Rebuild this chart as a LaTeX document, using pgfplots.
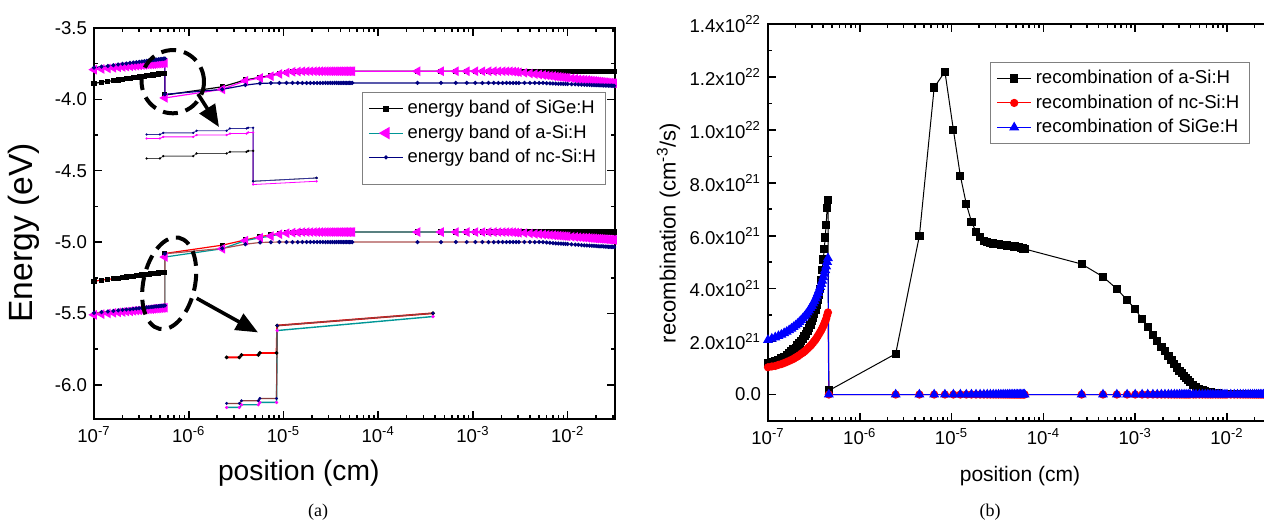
\documentclass[border=0pt]{standalone}
\usepackage{fontspec}
\setmainfont{Liberation Sans}
\newfontfamily\capfont{Liberation Serif}
\usepackage{pgfplots}
\usepackage{pgfplotstable}
\pgfplotsset{compat=1.18}
\usetikzlibrary{arrows.meta}
\definecolor{mag}{RGB}{255,0,255}
\definecolor{tealc}{RGB}{0,150,150}
\definecolor{navyc}{RGB}{0,0,128}
\definecolor{brownc}{RGB}{170,80,80}
\newcommand{\tickfont}{\fontsize{9.3pt}{11pt}\selectfont}

\pgfplotstableread{
x cbsg cbas cbnc vbsg vbas vbnc
1.0e-7 -3.888 -3.792 -3.778 -5.274 -5.510 -5.497
1.2e-7 -3.880 -3.787 -3.771 -5.267 -5.505 -5.491
1.4e-7 -3.874 -3.783 -3.766 -5.262 -5.500 -5.487
1.6e-7 -3.869 -3.779 -3.761 -5.257 -5.496 -5.483
1.8e-7 -3.864 -3.776 -3.756 -5.253 -5.493 -5.479
2.0e-7 -3.859 -3.773 -3.752 -5.249 -5.490 -5.476
2.2e-7 -3.856 -3.771 -3.749 -5.245 -5.487 -5.473
2.4e-7 -3.852 -3.768 -3.745 -5.242 -5.485 -5.471
2.6e-7 -3.849 -3.766 -3.742 -5.239 -5.482 -5.468
2.8e-7 -3.846 -3.764 -3.740 -5.236 -5.480 -5.466
3.0e-7 -3.843 -3.762 -3.737 -5.234 -5.478 -5.464
3.2e-7 -3.840 -3.760 -3.735 -5.231 -5.476 -5.462
3.4e-7 -3.838 -3.759 -3.733 -5.229 -5.474 -5.460
3.6e-7 -3.835 -3.757 -3.730 -5.227 -5.473 -5.458
3.8e-7 -3.833 -3.756 -3.728 -5.225 -5.471 -5.457
4.0e-7 -3.831 -3.754 -3.726 -5.223 -5.470 -5.455
4.2e-7 -3.829 -3.753 -3.725 -5.222 -5.468 -5.454
4.4e-7 -3.827 -3.752 -3.723 -5.220 -5.467 -5.452
4.6e-7 -3.825 -3.750 -3.721 -5.218 -5.466 -5.451
4.8e-7 -3.823 -3.749 -3.720 -5.217 -5.465 -5.450
5.0e-7 -3.821 -3.748 -3.718 -5.215 -5.463 -5.448
5.2e-7 -3.820 -3.747 -3.717 -5.214 -5.462 -5.447
5.4e-7 -3.818 -3.746 -3.715 -5.212 -5.461 -5.446
5.6e-7 -3.817 -3.745 -3.714 -5.211 -5.460 -5.445
5.6e-7 -3.970 -3.990 -3.965 -5.080 -5.105 -5.082
2.26e-6 -3.912 -3.930 -3.930 -5.022 -5.047 -5.045
3.96e-6 -3.864 -3.870 -3.900 -4.985 -4.990 -5.015
5.66e-6 -3.846 -3.850 -3.888 -4.962 -4.970 -5.003
7.36e-6 -3.832 -3.838 -3.886 -4.950 -4.958 -5.001
9.06e-6 -3.818 -3.822 -3.885 -4.940 -4.945 -5.000
1.076e-5 -3.811 -3.813 -3.885 -4.935 -4.938 -5.000
1.246e-5 -3.806 -3.807 -3.885 -4.932 -4.934 -5.000
1.416e-5 -3.804 -3.805 -3.885 -4.931 -4.932 -5.000
1.586e-5 -3.803 -3.803 -3.885 -4.930 -4.930 -5.000
1.756e-5 -3.803 -3.803 -3.885 -4.930 -4.930 -5.000
1.926e-5 -3.803 -3.803 -3.885 -4.930 -4.930 -5.000
2.096e-5 -3.803 -3.803 -3.885 -4.930 -4.930 -5.000
2.266e-5 -3.803 -3.803 -3.885 -4.930 -4.930 -5.000
2.436e-5 -3.803 -3.803 -3.885 -4.930 -4.930 -5.000
2.606e-5 -3.803 -3.803 -3.885 -4.930 -4.930 -5.000
2.776e-5 -3.803 -3.803 -3.885 -4.930 -4.930 -5.000
2.946e-5 -3.803 -3.803 -3.885 -4.930 -4.930 -5.000
3.116e-5 -3.803 -3.803 -3.885 -4.930 -4.930 -5.000
3.286e-5 -3.803 -3.803 -3.885 -4.930 -4.930 -5.000
3.456e-5 -3.803 -3.803 -3.885 -4.930 -4.930 -5.000
3.626e-5 -3.803 -3.803 -3.885 -4.930 -4.930 -5.000
3.796e-5 -3.803 -3.803 -3.885 -4.930 -4.930 -5.000
3.966e-5 -3.803 -3.803 -3.885 -4.930 -4.930 -5.000
4.136e-5 -3.803 -3.803 -3.885 -4.930 -4.930 -5.000
4.306e-5 -3.803 -3.803 -3.885 -4.930 -4.930 -5.000
4.476e-5 -3.803 -3.803 -3.885 -4.930 -4.930 -5.000
4.646e-5 -3.803 -3.803 -3.885 -4.930 -4.930 -5.000
4.816e-5 -3.803 -3.803 -3.885 -4.930 -4.930 -5.000
4.986e-5 -3.803 -3.803 -3.885 -4.930 -4.930 -5.000
5.156e-5 -3.803 -3.803 -3.885 -4.930 -4.930 -5.000
5.326e-5 -3.803 -3.803 -3.885 -4.930 -4.930 -5.000
2.6e-4 -3.803 -3.803 -3.885 -4.930 -4.930 -5.000
4.6e-4 -3.803 -3.803 -3.885 -4.930 -4.930 -5.000
6.6e-4 -3.803 -3.803 -3.885 -4.930 -4.930 -5.000
8.6e-4 -3.803 -3.803 -3.885 -4.930 -4.930 -5.000
1.06e-3 -3.803 -3.803 -3.885 -4.930 -4.930 -5.000
1.26e-3 -3.803 -3.803 -3.885 -4.930 -4.930 -5.000
1.46e-3 -3.803 -3.803 -3.885 -4.930 -4.930 -5.000
1.66e-3 -3.803 -3.803 -3.885 -4.930 -4.930 -5.000
1.86e-3 -3.803 -3.803 -3.885 -4.930 -4.930 -5.000
2.06e-3 -3.803 -3.803 -3.885 -4.930 -4.930 -5.000
2.26e-3 -3.803 -3.803 -3.885 -4.930 -4.930 -5.000
2.46e-3 -3.803 -3.803 -3.885 -4.930 -4.930 -5.000
2.66e-3 -3.803 -3.805 -3.885 -4.930 -4.931 -5.000
2.86e-3 -3.803 -3.807 -3.885 -4.930 -4.933 -5.000
3.06e-3 -3.803 -3.810 -3.885 -4.930 -4.935 -5.000
3.5e-3 -3.803 -3.814 -3.885 -4.930 -4.937 -5.000
4.0e-3 -3.803 -3.819 -3.885 -4.930 -4.940 -5.000
4.5e-3 -3.803 -3.823 -3.885 -4.930 -4.943 -5.000
5.0e-3 -3.803 -3.826 -3.885 -4.930 -4.945 -5.000
5.5e-3 -3.803 -3.829 -3.885 -4.930 -4.947 -5.000
6.0e-3 -3.803 -3.832 -3.887 -4.930 -4.949 -5.003
6.5e-3 -3.803 -3.835 -3.888 -4.930 -4.951 -5.005
7.0e-3 -3.803 -3.837 -3.889 -4.930 -4.952 -5.007
7.5e-3 -3.803 -3.840 -3.890 -4.930 -4.954 -5.009
8.0e-3 -3.803 -3.842 -3.891 -4.930 -4.955 -5.010
8.5e-3 -3.803 -3.844 -3.891 -4.930 -4.957 -5.011
9.0e-3 -3.803 -3.846 -3.892 -4.930 -4.958 -5.012
9.5e-3 -3.803 -3.848 -3.892 -4.930 -4.959 -5.013
1.0e-2 -3.803 -3.849 -3.893 -4.930 -4.960 -5.014
1.1e-2 -3.803 -3.853 -3.894 -4.930 -4.963 -5.016
1.2e-2 -3.803 -3.856 -3.895 -4.930 -4.964 -5.018
1.3e-2 -3.803 -3.859 -3.896 -4.930 -4.966 -5.019
1.4e-2 -3.803 -3.861 -3.897 -4.930 -4.968 -5.021
1.5e-2 -3.803 -3.863 -3.898 -4.930 -4.969 -5.023
1.6e-2 -3.803 -3.865 -3.899 -4.930 -4.970 -5.024
1.7e-2 -3.803 -3.867 -3.899 -4.930 -4.972 -5.025
1.8e-2 -3.803 -3.869 -3.900 -4.930 -4.973 -5.026
1.9e-2 -3.803 -3.871 -3.900 -4.930 -4.974 -5.027
2.0e-2 -3.803 -3.873 -3.901 -4.930 -4.976 -5.028
2.1e-2 -3.803 -3.874 -3.901 -4.930 -4.976 -5.029
2.2e-2 -3.803 -3.876 -3.902 -4.930 -4.977 -5.030
2.3e-2 -3.803 -3.877 -3.902 -4.930 -4.978 -5.030
2.4e-2 -3.803 -3.879 -3.903 -4.930 -4.979 -5.031
2.5e-2 -3.803 -3.880 -3.903 -4.930 -4.980 -5.032
2.6e-2 -3.803 -3.881 -3.903 -4.930 -4.981 -5.032
2.7e-2 -3.803 -3.883 -3.904 -4.930 -4.982 -5.033
2.8e-2 -3.803 -3.884 -3.904 -4.930 -4.983 -5.033
2.9e-2 -3.803 -3.885 -3.904 -4.930 -4.983 -5.034
3.0e-2 -3.803 -3.886 -3.905 -4.930 -4.984 -5.034
3.1e-2 -3.803 -3.887 -3.905 -4.930 -4.985 -5.035
3.2e-2 -3.803 -3.888 -3.905 -4.930 -4.985 -5.035
}\band

% insets (lx = log10 of position)
\pgfplotstableread{
lx y
-6.444 -4.246
-6.304 -4.246
-6.269 -4.235
-5.953 -4.235
-5.917 -4.220
-5.600 -4.220
-5.565 -4.204
-5.389 -4.204
-5.372 -4.199
-5.320 -4.199
-5.320 -4.574
-4.651 -4.551
}\insCBnc
\pgfplotstableread{
lx y
-6.444 -4.274
-6.304 -4.274
-6.269 -4.263
-5.953 -4.263
-5.917 -4.250
-5.600 -4.250
-5.565 -4.240
-5.389 -4.240
-5.372 -4.232
-5.320 -4.232
-5.320 -4.597
-4.651 -4.574
}\insCBas
\pgfplotstableread{
lx y
-6.444 -4.414
-6.304 -4.414
-6.269 -4.398
-5.953 -4.398
-5.917 -4.379
-5.600 -4.379
-5.565 -4.368
-5.389 -4.368
-5.372 -4.361
-5.320 -4.361
-5.320 -4.574
-4.651 -4.551
}\insCBsg
\pgfplotstableread{
lx y
-5.600 -5.808
-5.465 -5.808
-5.442 -5.791
-5.265 -5.791
-5.249 -5.777
-5.073 -5.777
-5.066 -5.585
-3.421 -5.499
}\insVBsg
\pgfplotstableread{
lx y
-5.600 -6.131
-5.465 -6.131
-5.442 -6.112
-5.265 -6.112
-5.249 -6.096
-5.073 -6.096
-5.066 -5.585
-3.421 -5.499
}\insVBnc
\pgfplotstableread{
lx y
-5.600 -6.159
-5.465 -6.159
-5.442 -6.140
-5.265 -6.140
-5.249 -6.124
-5.073 -6.124
-5.066 -5.620
-3.421 -5.522
}\insVBas

% recombination, units of 1e21 cm^-3/s
\pgfplotstableread{
x blk red blu
1.0e-7 1.18 1.03 2.06
1.1e-7 1.22 1.06 2.11
1.2e-7 1.26 1.08 2.16
1.3e-7 1.31 1.12 2.21
1.4e-7 1.37 1.15 2.26
1.5e-7 1.43 1.19 2.32
1.6e-7 1.50 1.23 2.37
1.7e-7 1.57 1.27 2.43
1.8e-7 1.63 1.31 2.49
1.9e-7 1.70 1.35 2.55
2.0e-7 1.77 1.40 2.61
2.1e-7 1.85 1.44 2.67
2.2e-7 1.93 1.49 2.74
2.3e-7 2.02 1.54 2.81
2.4e-7 2.11 1.58 2.88
2.5e-7 2.20 1.63 2.95
2.6e-7 2.30 1.68 3.02
2.7e-7 2.41 1.74 3.10
2.8e-7 2.52 1.79 3.18
2.9e-7 2.64 1.84 3.27
3.0e-7 2.77 1.90 3.35
3.1e-7 2.90 1.96 3.44
3.2e-7 3.05 2.02 3.53
3.3e-7 3.20 2.08 3.63
3.4e-7 3.37 2.15 3.73
3.5e-7 3.56 2.22 3.84
3.6e-7 3.77 2.29 3.95
3.7e-7 4.00 2.36 4.06
3.8e-7 4.33 2.43 4.18
3.9e-7 4.70 2.51 4.30
4.0e-7 5.10 2.59 4.43
4.1e-7 5.50 2.68 4.56
4.2e-7 5.93 2.77 4.70
4.3e-7 6.40 2.86 4.84
4.4e-7 7.04 2.99 5.01
4.5e-7 7.36 3.10 5.15
4.6e-7 0.15 0 0
2.46e-6 1.54 0 0
4.46e-6 6.00 0 0
6.46e-6 11.60 0 0
8.46e-6 12.20 0 0
1.046e-5 10.00 0 0
1.246e-5 8.26 0 0
1.446e-5 7.20 0 0
1.646e-5 6.53 0 0
1.846e-5 6.15 0 0
2.046e-5 5.94 0 0
2.246e-5 5.81 0 0
2.446e-5 5.76 0 0
2.646e-5 5.73 0 0
2.846e-5 5.71 0 0
3.046e-5 5.69 0 0
3.246e-5 5.68 0 0
3.446e-5 5.66 0 0
3.646e-5 5.65 0 0
3.846e-5 5.64 0 0
4.046e-5 5.63 0 0
4.246e-5 5.62 0 0
4.446e-5 5.61 0 0
4.646e-5 5.60 0 0
4.846e-5 5.59 0 0
5.046e-5 5.58 0 0
5.246e-5 5.57 0 0
5.446e-5 5.56 0 0
5.646e-5 5.55 0 0
5.846e-5 5.54 0 0
6.046e-5 5.52 0 0
6.246e-5 5.50 0 0
2.61e-4 4.93 0 0
4.46e-4 4.45 0 0
6.31e-4 3.99 0 0
8.16e-4 3.57 0 0
1.00e-3 3.23 0 0
1.19e-3 2.84 0 0
1.37e-3 2.54 0 0
1.56e-3 2.25 0 0
1.74e-3 2.01 0 0
1.93e-3 1.80 0 0
2.11e-3 1.63 0 0
2.30e-3 1.45 0 0
2.48e-3 1.30 0 0
2.67e-3 1.15 0 0
2.85e-3 1.02 0 0
3.04e-3 0.90 0 0
3.22e-3 0.80 0 0
3.41e-3 0.70 0 0
3.59e-3 0.61 0 0
3.78e-3 0.54 0 0
3.96e-3 0.47 0 0
4.30e-3 0.37 0 0
4.60e-3 0.29 0 0
5.00e-3 0.22 0 0
5.40e-3 0.17 0 0
5.80e-3 0.13 0 0
6.20e-3 0.10 0 0
6.60e-3 0.08 0 0
7.00e-3 0.06 0 0
7.50e-3 0.05 0 0
8.00e-3 0.04 0 0
8.50e-3 0.03 0 0
9.00e-3 0.03 0 0
9.50e-3 0.02 0 0
1.00e-2 0.02 0 0
1.10e-2 0.02 0 0
1.20e-2 0.02 0 0
1.30e-2 0.02 0 0
1.40e-2 0.02 0 0
1.50e-2 0.02 0 0
1.60e-2 0.01 0 0
1.70e-2 0.01 0 0
1.80e-2 0.01 0 0
1.90e-2 0.01 0 0
2.00e-2 0.01 0 0
2.10e-2 0.01 0 0
2.20e-2 0.01 0 0
2.30e-2 0.01 0 0
2.40e-2 0.01 0 0
2.50e-2 0.01 0 0
2.60e-2 0.01 0 0
2.70e-2 0.01 0 0
2.80e-2 0.01 0 0
2.90e-2 0.01 0 0
3.00e-2 0.01 0 0
3.10e-2 0.01 0 0
3.20e-2 0.01 0 0
}\recomb

\begin{document}
\begin{tikzpicture}
% ---------- (a) ----------
\begin{axis}[
  scale only axis,
  at={(47pt,53pt)}, anchor=south west,
  width=260.5pt, height=195.5pt,
  xmode=log, xmin=1e-7, xmax=0.0316228,
  xtick={1e-7,1e-6,1e-5,1e-4,1e-3,1e-2},
  xticklabels={10\textsuperscript{-7},10\textsuperscript{-6},10\textsuperscript{-5},10\textsuperscript{-4},10\textsuperscript{-3},10\textsuperscript{-2}},
  minor xtick={2e-7,3e-7,4e-7,5e-7,6e-7,7e-7,8e-7,9e-7,2e-6,3e-6,4e-6,5e-6,6e-6,7e-6,8e-6,9e-6,2e-5,3e-5,4e-5,5e-5,6e-5,7e-5,8e-5,9e-5,2e-4,3e-4,4e-4,5e-4,6e-4,7e-4,8e-4,9e-4,2e-3,3e-3,4e-3,5e-3,6e-3,7e-3,8e-3,9e-3,2e-2,3e-2},
  tick align=inside,
  axis line style={line width=1.15pt},
  tick style={black, line width=0.8pt},
  major tick length=4pt, minor tick length=2pt,
  tick label style={font=\tickfont},
  ymin=-6.24, ymax=-3.5,
  ytick={-6,-5.5,-5,-4.5,-4,-3.5},
  yticklabels={-6.0,-5.5,-5.0,-4.5,-4.0,-3.5},
  minor ytick={-5.75,-5.25,-4.75,-4.25,-3.75},
  xlabel={position (cm)},
  xlabel style={font=\fontsize{14.1pt}{16pt}\selectfont, at={(axis description cs:0.393,-0.138)}, anchor=center},
  ylabel={Energy (eV)},
  ylabel style={font=\fontsize{16.8pt}{19pt}\selectfont, at={(axis description cs:-0.135,0.476)}, anchor=center},
  legend cell align=left,
  legend style={at={(0.514,0.836)}, anchor=north west, draw=gray, line width=0.5pt,
    font=\fontsize{9.2pt}{11pt}\selectfont},
]
% conduction band
\addplot[black, line width=0.6pt, mark=square*, mark size=1pt, forget plot] table[x=x,y=cbsg]{\band};
\addplot[mag, line width=0.6pt, mark=triangle*, mark size=2.2pt, mark options={rotate=90, fill=mag, draw=mag}, forget plot] table[x=x,y=cbas]{\band};
\addplot[navyc, line width=0.6pt, mark=*, mark size=0.7pt, forget plot] table[x=x,y=cbnc]{\band};
% valence band
\addplot[red, line width=0.6pt, mark=square*, mark size=1pt, mark options={black, fill=black}, forget plot] table[x=x,y=vbsg]{\band};
\addplot[tealc, line width=0.6pt, mark=triangle*, mark size=2.2pt, mark options={rotate=90, fill=mag, draw=mag}, forget plot] table[x=x,y=vbas]{\band};
\addplot[brownc, line width=0.6pt, mark=*, mark size=0.7pt, mark options={navyc, fill=navyc}, forget plot] table[x=x,y=vbnc]{\band};
% insets
\addplot[black!70, line width=0.4pt, mark=*, mark size=0.35pt, mark options={black}, forget plot] table[x expr=10^(\thisrow{lx}), y=y]{\insCBsg};
\addplot[mag, line width=0.4pt, mark=*, mark size=0.35pt, forget plot] table[x expr=10^(\thisrow{lx}), y=y]{\insCBas};
\addplot[navyc!80, line width=0.4pt, mark=*, mark size=0.35pt, mark options={navyc}, forget plot] table[x expr=10^(\thisrow{lx}), y=y]{\insCBnc};
\addplot[red, line width=0.9pt, mark=*, mark size=0.4pt, mark options={black}, forget plot] table[x expr=10^(\thisrow{lx}), y=y]{\insVBsg};
\addplot[tealc, line width=0.7pt, mark=*, mark size=0.4pt, mark options={mag}, forget plot] table[x expr=10^(\thisrow{lx}), y=y]{\insVBas};
\addplot[brownc!80!black, line width=0.6pt, mark=*, mark size=0.4pt, mark options={navyc}, forget plot] table[x expr=10^(\thisrow{lx}), y=y]{\insVBnc};
% legend
\addlegendimage{black, line width=0.6pt, mark=square*, mark size=1.1pt}
\addlegendentry{energy band of SiGe:H}
\addlegendimage{tealc, line width=0.6pt, mark=triangle*, mark size=3pt, mark options={rotate=90, fill=mag, draw=mag}}
\addlegendentry{energy band of a-Si:H}
\addlegendimage{navyc, line width=0.6pt, mark=*, mark size=0.7pt}
\addlegendentry{energy band of nc-Si:H}
\addlegendimage{empty legend}
\addlegendentry{}
\end{axis}

% annotations of (a)
\draw[black, line width=2pt, dash pattern=on 7.5pt off 4pt] (86.4pt,221.65pt) ellipse [x radius=15.6pt, y radius=15.8pt];
\draw[black, line width=2pt, dash pattern=on 7.5pt off 4pt, rotate around={-12:(84.6pt,120.85pt)}] (84.6pt,120.85pt) ellipse [x radius=12.9pt, y radius=23.3pt];
\draw[black, line width=1.8pt, -{Triangle[length=11pt,width=9pt]}] (99pt,215.5pt) -- (109.5pt,199pt);
\draw[black, line width=1.8pt, -{Triangle[length=11pt,width=9pt]}] (98.35pt,113.35pt) -- (129pt,96.3pt);

% ---------- (b) ----------
\begin{axis}[
  scale only axis,
  at={(384pt,52pt)}, anchor=south west,
  width=252.45pt, height=198.5pt,
  xmode=log, xmin=1e-7, xmax=0.0316228,
  xtick={1e-7,1e-6,1e-5,1e-4,1e-3,1e-2},
  xticklabels={10\textsuperscript{-7},10\textsuperscript{-6},10\textsuperscript{-5},10\textsuperscript{-4},10\textsuperscript{-3},10\textsuperscript{-2}},
  minor xtick={2e-7,3e-7,4e-7,5e-7,6e-7,7e-7,8e-7,9e-7,2e-6,3e-6,4e-6,5e-6,6e-6,7e-6,8e-6,9e-6,2e-5,3e-5,4e-5,5e-5,6e-5,7e-5,8e-5,9e-5,2e-4,3e-4,4e-4,5e-4,6e-4,7e-4,8e-4,9e-4,2e-3,3e-3,4e-3,5e-3,6e-3,7e-3,8e-3,9e-3,2e-2,3e-2},
  tick align=inside,
  axis line style={line width=1.15pt},
  tick style={black, line width=0.8pt},
  major tick length=4pt, minor tick length=2pt,
  tick label style={font=\tickfont},
  ymin=-1, ymax=14,
  ytick={0,2,4,6,8,10,12,14},
  yticklabels={0.0,2.0x10\textsuperscript{21},4.0x10\textsuperscript{21},6.0x10\textsuperscript{21},8.0x10\textsuperscript{21},1.0x10\textsuperscript{22},1.2x10\textsuperscript{22},1.4x10\textsuperscript{22}},
  minor ytick={1,3,5,7,9,11,13},
  xlabel={position (cm)},
  xlabel style={font=\fontsize{10.5pt}{12pt}\selectfont, at={(axis description cs:0.499,-0.1385)}, anchor=center},
  ylabel={recombination (cm\textsuperscript{-3}/s)},
  ylabel style={font=\fontsize{11pt}{13pt}\selectfont, at={(axis description cs:-0.197,0.4736)}, anchor=center},
  legend cell align=left,
  legend style={at={(0.44,0.905)}, anchor=north west, draw=gray, line width=0.5pt,
    font=\fontsize{9.3pt}{11pt}\selectfont},
]
\addplot[black, line width=0.5pt, mark=square*, mark size=1.8pt] table[x=x,y=blk]{\recomb};
\addlegendentry{recombination of a-Si:H}
\addplot[red, line width=0.5pt, mark=*, mark size=1.8pt] table[x=x,y=red]{\recomb};
\addlegendentry{recombination of nc-Si:H}
\addplot[blue, line width=0.5pt, mark=triangle*, mark size=2.4pt] table[x=x,y=blu]{\recomb};
\addlegendentry{recombination of SiGe:H}
\end{axis}

\node[font=\capfont\fontsize{9pt}{10pt}\selectfont] at (159pt,6.5pt) {(a)};
\node[font=\capfont\fontsize{9pt}{10pt}\selectfont] at (495pt,6.5pt) {(b)};

\pgfresetboundingbox
\useasboundingbox (0pt,0pt) rectangle (632pt,262.5pt);
\end{tikzpicture}
\end{document}
